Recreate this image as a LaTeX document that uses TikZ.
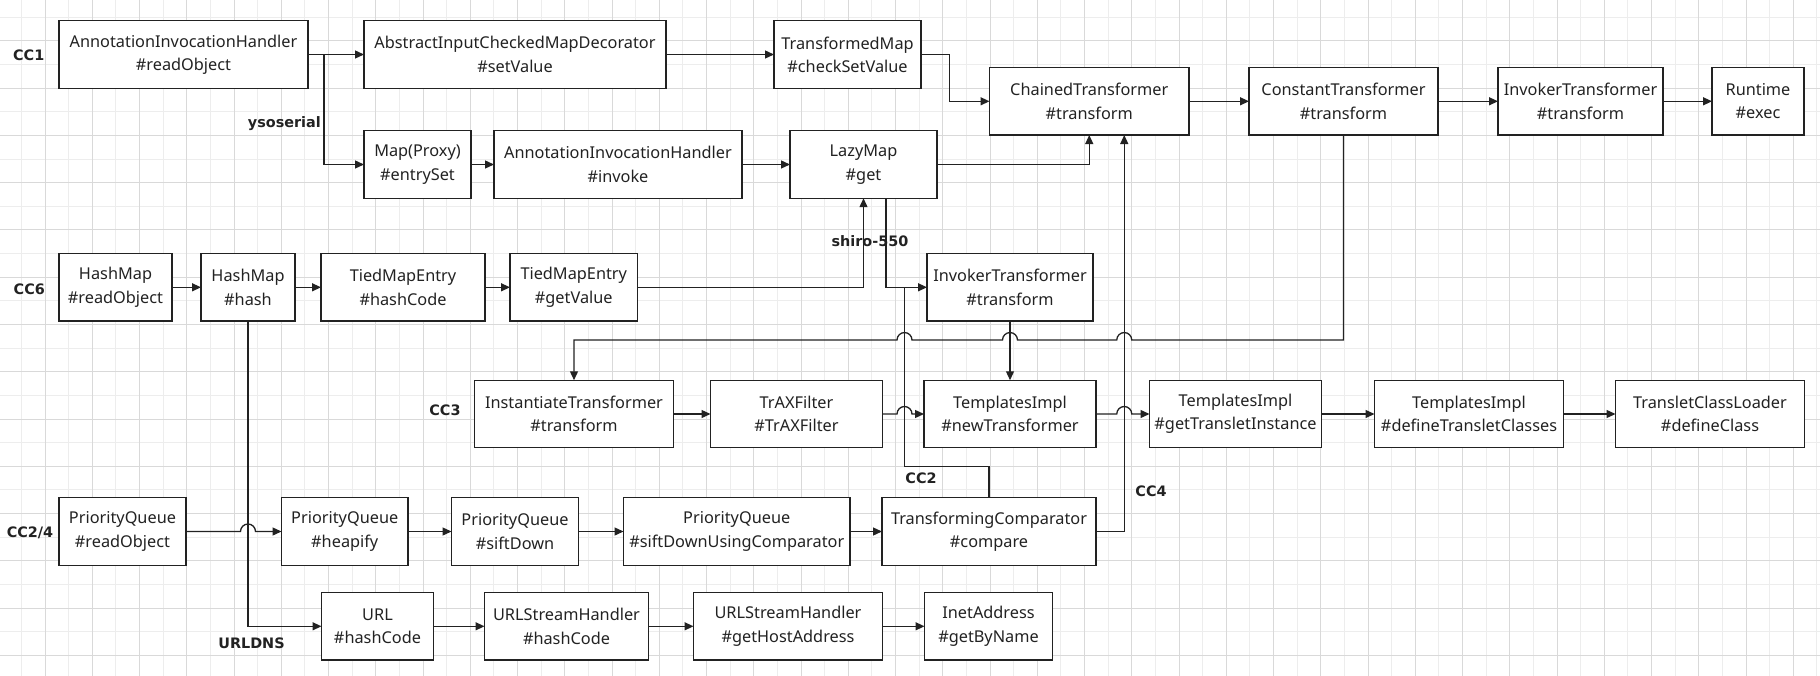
\documentclass[tikz,border=0pt]{standalone}
\usepackage{fontspec}
\setmainfont{Noto Sans}
\newfontfamily\labelfont{DejaVu Sans}
\usetikzlibrary{arrows.meta, positioning, calc}
\definecolor{gridmajor}{HTML}{D9D9D9}
\definecolor{gridminor}{HTML}{EDEDED}
\definecolor{ink}{HTML}{222222}
\tikzset{
  callblock/.style={
    rectangle,
    minimum height=67.5pt,
    inner sep=0pt,
    outer sep=0pt,
    align = center,
    draw=ink,
    fill=white,
    text=ink,
    line width = 1.3pt,
    font=\fontsize{16.3}{23.3}\selectfont,
  },
  chainlabel/.style={
    inner sep=0pt,
    text=ink,
    font=\labelfont\bfseries\fontsize{14.4}{18}\selectfont,
  },
  arrow/.style={
    line width = 1.3pt,
    -{Triangle[length=9pt,width=8pt]},
    draw=ink,
    },
  link/.style={
    line width = 1.3pt,
    draw=ink,
    },
}

\begin{document}
\begin{tikzpicture}[x=1pt, y=1pt]
    \useasboundingbox (0,0) rectangle (1820,-676);
    \fill[white] (0,0) rectangle (1820,-676);
    % grid
    \foreach \i in {0,...,38} {
      \draw[gridminor, line width=1pt] ({21.375+47.25*\i},0) -- ++(0,-676);
    }
    \foreach \i in {0,...,13} {
      \draw[gridminor, line width=1pt] (0,{-17.375-47.25*\i}) -- ++(1820,0);
    }
    \foreach \i in {0,...,37} {
      \draw[gridmajor, line width=1pt] ({45+47.25*\i},0) -- ++(0,-676);
    }
    \foreach \i in {0,...,13} {
      \draw[gridmajor, line width=1pt] (0,{-41-47.25*\i}) -- ++(1820,0);
    }

    % CC1 top row
    \node (aih) [callblock, minimum width=249pt, anchor=west] at (59,-54.5) {AnnotationInvocationHandler\\\#readObject};
    \node (aicmd) [callblock, minimum width=302pt, right=56pt of aih] {AbstractInputCheckedMapDecorator\\\#setValue};
    \node (tmap) [callblock, minimum width=147pt, right=108pt of aicmd] {TransformedMap\\\#checkSetValue};
    % transformer row
    \node (chain) [callblock, minimum width=199.5pt, anchor=west] at (989.5,-101.3) {ChainedTransformer\\\#transform};
    \node (constt) [callblock, minimum width=189pt, right=60pt of chain] {ConstantTransformer\\\#transform};
    \node (invk) [callblock, minimum width=165pt, right=60pt of constt] {InvokerTransformer\\\#transform};
    \node (rt) [callblock, minimum width=92pt, right=49pt of invk] {Runtime\\\#exec};
    % ysoserial row
    \node (proxy) [callblock, minimum width=107pt, anchor=west] at (364,-164.5) {Map(Proxy)\\\#entrySet};
    \node (aihinv) [callblock, minimum width=248pt, right=23pt of proxy] {AnnotationInvocationHandler\\\#invoke};
    \node (lazy) [callblock, minimum width=147pt, right=48pt of aihinv] {LazyMap\\\#get};
    % CC6 row
    \node (hm1) [callblock, minimum width=113pt, anchor=west] at (59,-287.3) {HashMap\\\#readObject};
    \node (hm2) [callblock, minimum width=94pt, right=29pt of hm1] {HashMap\\\#hash};
    \node (tme1) [callblock, minimum width=164pt, right=26pt of hm2] {TiedMapEntry\\\#hashCode};
    \node (tme2) [callblock, minimum width=127.5pt, right=25pt of tme1] {TiedMapEntry\\\#getValue};
    \node (invk2) [callblock, minimum width=166pt, anchor=west] at (927,-287.3) {InvokerTransformer\\\#transform};
    % CC3 row
    \node (inst) [callblock, minimum width=199pt, anchor=west] at (474.5,-414) {InstantiateTransformer\\\#transform};
    \node (trax) [callblock, minimum width=172pt, right=37pt of inst] {TrAXFilter\\\#TrAXFilter};
    \node (ti1) [callblock, minimum width=172pt, right=41.5pt of trax] {TemplatesImpl\\\#newTransformer};
    \node (ti2) [callblock, minimum width=172pt, right=53.5pt of ti1] {TemplatesImpl\\\#getTransletInstance};
    \node (ti3) [callblock, minimum width=189pt, right=53pt of ti2] {TemplatesImpl\\\#defineTransletClasses};
    \node (tcl) [callblock, minimum width=189pt, right=52pt of ti3] {TransletClassLoader\\\#defineClass};
    % CC2/4 row
    \node (pq1) [callblock, minimum width=127pt, anchor=west] at (59,-531.5) {PriorityQueue\\\#readObject};
    \node (pq2) [callblock, minimum width=126.5pt, right=95.5pt of pq1] {PriorityQueue\\\#heapify};
    \node (pq3) [callblock, minimum width=127pt, right=43.5pt of pq2] {PriorityQueue\\\#siftDown};
    \node (pq4) [callblock, minimum width=226.5pt, right=45pt of pq3] {PriorityQueue\\\#siftDownUsingComparator};
    \node (tc) [callblock, minimum width=214pt, right=32pt of pq4] {TransformingComparator\\\#compare};
    % URLDNS row
    \node (url) [callblock, minimum width=112pt, anchor=west] at (321.5,-626.3) {URL\\\#hashCode};
    \node (ush1) [callblock, minimum width=164pt, right=51pt of url] {URLStreamHandler\\\#hashCode};
    \node (ush2) [callblock, minimum width=189pt, right=45pt of ush1] {URLStreamHandler\\\#getHostAddress};
    \node (inet) [callblock, minimum width=128pt, right=42pt of ush2] {InetAddress\\\#getByName};

    % chain names
    \node (lcc1) [chainlabel] at (28.7,-55) {CC1};
    \node (lyso) [chainlabel, anchor=east] at (321,-123.3) {ysoserial};
    \node (lcc6) [chainlabel] at (29.3,-289) {CC6};
    \node (lshiro) [chainlabel] at (870,-240.7) {shiro-550};
    \node (lcc3) [chainlabel] at (445,-410.7) {CC3};
    \node (lcc2) [chainlabel] at (921,-478.3) {CC2};
    \node (lcc4) [chainlabel] at (1151,-491.7) {CC4};
    \node (lcc24) [chainlabel] at (30,-533.3) {CC2/4};
    \node (lurl) [chainlabel] at (251.5,-643.3) {URLDNS};

    \coordinate (cc2j) at ($(lazy.south |- invk2.west)+(41,0)$);
    \coordinate (cc4x) at ($(chain.south)+(35,0)$);
    \coordinate (bus) at ($(constt.south)+(0,-205)$);

    \draw [arrow] (aih) -- (aicmd);
    \draw [arrow] (aih.east) -- ++(16,0) |- (proxy.west);
    \draw [arrow] (aicmd) -- (tmap);
    \draw [arrow] (tmap.east) -- ++(28.5,0) |- (chain.west);
    \draw [arrow] (chain) -- (constt);
    \draw [arrow] (constt) -- (invk);
    \draw [arrow] (invk) -- (rt);
    \draw [arrow] (proxy) -- (aihinv);
    \draw [arrow] (aihinv) -- (lazy);
    \draw [arrow] (lazy.east) -| (chain.south);
    \draw [arrow] (hm1) -- (hm2);
    \draw [arrow] (hm2) -- (tme1);
    \draw [arrow] (tme1) -- (tme2);
    \draw [arrow] (tme2.east) -| (lazy.south);
    \draw [arrow] ([xshift=22.5pt]lazy.south) |- (invk2.west);
    \draw [arrow] (invk2) -- (ti1);
    \draw [arrow] (constt.south) -- (bus)
      -- ($(bus -| cc4x)+(7.5,0)$) arc[start angle=0, end angle=180, radius=7.5]
      -- ($(bus -| invk2)+(7.5,0)$) arc[start angle=0, end angle=180, radius=7.5]
      -- ($(bus -| cc2j)+(7.5,0)$) arc[start angle=0, end angle=180, radius=7.5]
      -- (bus -| inst.north) -- (inst.north);
    \draw [arrow] (inst) -- (trax);
    \draw [arrow] (trax) -- ($(trax.east -| cc2j)+(-7.5,0)$) arc[start angle=180, end angle=0, radius=7.5] -- (ti1);
    \draw [arrow] (ti1) -- ($(ti1.east -| cc4x)+(-7.5,0)$) arc[start angle=180, end angle=0, radius=7.5] -- (ti2);
    \draw [arrow] (ti2) -- (ti3);
    \draw [arrow] (ti3) -- (tcl);
    \draw [arrow] (pq1) -- ($(pq1.east -| hm2.south)+(-7.5,0)$) arc[start angle=180, end angle=0, radius=7.5] -- (pq2);
    \draw [arrow] (pq2) -- (pq3);
    \draw [arrow] (pq3) -- (pq4);
    \draw [arrow] (pq4) -- (tc);
    \draw [arrow] (tc.east) -| (cc4x);
    \draw [link] (tc.north) -- ++(0,31) -| (cc2j);
    \draw [arrow] (hm2.south) |- (url.west);
    \draw [arrow] (url) -- (ush1);
    \draw [arrow] (ush1) -- (ush2);
    \draw [arrow] (ush2) -- (inet);
  \end{tikzpicture}
\end{document}
